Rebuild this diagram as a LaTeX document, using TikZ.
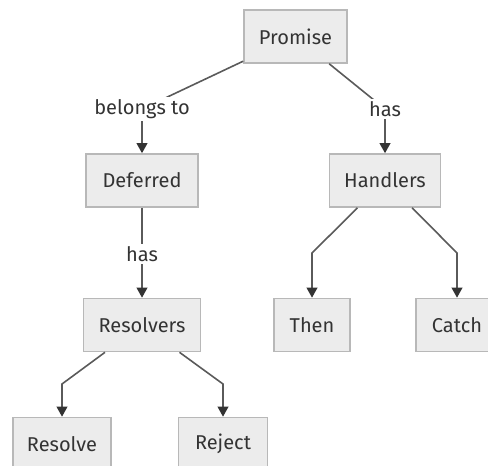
\documentclass[tikz,border=0pt]{standalone}
\usepackage{fontspec}
\setmainfont{Fira Sans}
\usetikzlibrary{arrows.meta}
\definecolor{boxfill}{HTML}{ECECEC}
\definecolor{boxline}{HTML}{B8B8B8}
\definecolor{edgeline}{HTML}{5A5A5A}
\definecolor{ink}{HTML}{333333}

\begin{document}
\begin{tikzpicture}[x=0.75pt,y=-0.75pt,
        box/.style={draw=boxline,fill=boxfill,line width=1.2pt,text=ink,
                inner xsep=4pt,minimum height=39.75pt,font=\fontsize{15}{17}\selectfont},
        lbl/.style={fill=white,text=ink,inner sep=1.5pt,font=\fontsize{15}{17}\selectfont},
        edge/.style={draw=edgeline,line width=1.2pt,
                arrows={-{Triangle[length=7.5pt,width=8pt,color=ink]}}}] % Promise structure
        \useasboundingbox (0,0) rectangle (488,466);
        % boxes
        \node[box,minimum width=77.25pt] (promise) at (295.5,36.5) {Promise};
        \node[box,minimum width=84pt] (deferred) at (142,180.5) {Deferred};
        \node[box,minimum width=83.25pt] (handlers) at (385,180.5) {Handlers};
        \node[box,minimum width=87.75pt] (resolvers) at (142,325) {Resolvers};
        \node[box,minimum width=57pt] (then) at (312,325) {Then};
        \node[box,minimum width=61.5pt] (catch) at (457,325) {Catch};
        \node[box,minimum width=73.5pt] (resolve) at (62,444) {Resolve};
        \node[box,minimum width=66.75pt] (reject) at (223,444) {Reject};
        % bends
        \coordinate (bendA) at (142,109);
        \coordinate (bendB) at (385,109);
        \coordinate (bendC) at (142,254);
        \coordinate (bendD) at (312,253);
        \coordinate (bendE) at (457,253);
        \coordinate (bendF) at (62,384);
        \coordinate (bendG) at (223,384);
        % edges
        \draw[edge] (promise) -- (bendA) node[lbl] {belongs to} -- (deferred);
        \draw[edge] (promise) -- (bendB) node[lbl] {has} -- (handlers);
        \draw[edge] (deferred) -- (bendC) node[lbl] {has} -- (resolvers);
        \draw[edge] (handlers) -- (bendD) -- (then);
        \draw[edge] (handlers) -- (bendE) -- (catch);
        \draw[edge] (resolvers) -- (bendF) -- (resolve);
        \draw[edge] (resolvers) -- (bendG) -- (reject);
\end{tikzpicture}
\end{document}
